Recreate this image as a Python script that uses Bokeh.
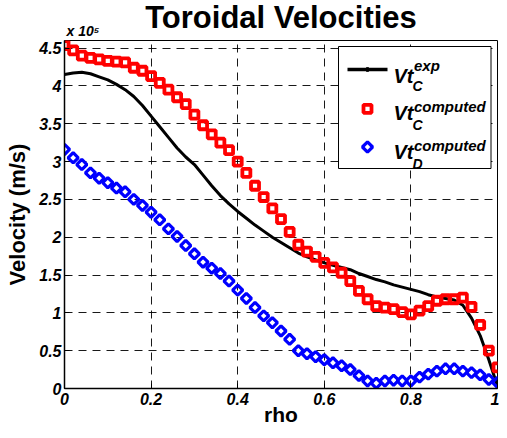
import numpy as np
from bokeh.plotting import figure
from bokeh.models import Range1d, FixedTicker, Label, Title
from bokeh.embed import file_html
from bokeh.resources import INLINE

# ---------------- data (velocities in units of 1e5 m/s) ----------------
rho = [0.00, 0.02, 0.04, 0.06, 0.08, 0.10, 0.12, 0.14, 0.16, 0.18,
       0.20, 0.22, 0.24, 0.26, 0.28, 0.30, 0.32, 0.34, 0.36, 0.38,
       0.40, 0.42, 0.44, 0.46, 0.48, 0.50, 0.52, 0.54, 0.56, 0.58,
       0.60, 0.62, 0.64, 0.66, 0.68, 0.70, 0.72, 0.74, 0.76, 0.78,
       0.80, 0.82, 0.84, 0.86, 0.88, 0.90, 0.92, 0.94, 0.96, 0.98, 1.00]

vt_c_exp = [4.15, 4.17, 4.18, 4.16, 4.12, 4.08, 4.02, 3.95, 3.86, 3.74,
            3.60, 3.46, 3.32, 3.18, 3.06, 2.96, 2.82, 2.68, 2.55, 2.44,
            2.34, 2.25, 2.16, 2.08, 2.00, 1.93, 1.86, 1.79, 1.74, 1.70,
            1.66, 1.63, 1.60, 1.57, 1.52, 1.48, 1.44, 1.41, 1.37, 1.34,
            1.31, 1.28, 1.24, 1.21, 1.19, 1.17, 1.10, 0.93, 0.70, 0.38, 0.03]

vt_c_computed = [4.54, 4.47, 4.40, 4.37, 4.35, 4.33, 4.32, 4.31, 4.24, 4.20,
                 4.13, 4.04, 3.95, 3.85, 3.76, 3.62, 3.48, 3.36, 3.25, 3.15,
                 3.00, 2.85, 2.68, 2.53, 2.38, 2.24, 2.07, 1.90, 1.81, 1.74,
                 1.66, 1.60, 1.53, 1.42, 1.29, 1.18, 1.09, 1.07, 1.05, 1.01,
                 0.98, 1.03, 1.09, 1.16, 1.18, 1.18, 1.20, 1.08, 0.84, 0.50, 0.28]

vt_d_computed = [3.16, 3.05, 2.96, 2.85, 2.78, 2.72, 2.65, 2.60, 2.50, 2.42,
                 2.33, 2.23, 2.11, 2.01, 1.89, 1.78, 1.67, 1.59, 1.52, 1.42,
                 1.30, 1.19, 1.07, 0.96, 0.87, 0.76, 0.65, 0.50, 0.46, 0.42,
                 0.38, 0.34, 0.30, 0.25, 0.17, 0.10, 0.07, 0.10, 0.11, 0.10,
                 0.10, 0.15, 0.19, 0.23, 0.26, 0.26, 0.23, 0.21, 0.18, 0.12, 0.08]

x_ticks = [0, 0.2, 0.4, 0.6, 0.8, 1]
x_tick_labels = ["0", "0.2", "0.4", "0.6", "0.8", "1"]
y_ticks = [0, 0.5, 1, 1.5, 2, 2.5, 3, 3.5, 4, 4.5]
y_tick_labels = ["0", "0.5", "1", "1.5", "2", "2.5", "3", "3.5", "4", "4.5"]

title_text = "Toroidal Velocities"
x_label = "rho"
y_label = "Velocity (m/s)"
exponent_text = "x 10\u2075"

X_MIN, X_MAX = 0.0, 1.0
Y_MIN, Y_MAX = 0.0, 4.6

W, H = 499, 430
FL, FR, FT, FB = 64, 497, 40, 388   # intended frame edges in figure pixels


def dx(fx):
    """figure pixel x -> data x (legend placement only)"""
    return X_MIN + (fx - FL) / (FR - FL) * (X_MAX - X_MIN)


def dy(fy):
    """figure pixel y -> data y (legend placement only)"""
    return Y_MIN + (FB - fy) / (FB - FT) * (Y_MAX - Y_MIN)


FONT = "Liberation Sans"

p = figure(width=W, height=H,
           x_range=Range1d(X_MIN, X_MAX), y_range=Range1d(Y_MIN, Y_MAX),
           output_backend="svg", toolbar_location=None,
           min_border_left=FL, min_border_right=W - FR,
           min_border_top=FT, min_border_bottom=H - FB)
p.background_fill_color = "white"
p.border_fill_color = "white"
p.outline_line_color = "black"
p.outline_line_width = 1

# title (outer above panel) and exponent marker (panel nearest the frame)
p.title.text = title_text
p.title.align = "center"
p.title.vertical_align = "bottom"
p.title.offset = 4
p.title.text_font = FONT
p.title.text_font_size = "31px"
p.title.text_font_style = "bold"
p.title.text_color = "black"
p.title.standoff = -30

exp_title = Title(text=exponent_text, align="left", offset=2,
                  vertical_align="bottom",
                  text_font=FONT, text_font_size="14px",
                  text_font_style="bold italic", text_color="black",
                  standoff=3)
p.add_layout(exp_title, "above")

for ax, ticks, labels in ((p.xaxis[0], x_ticks, x_tick_labels),
                          (p.yaxis[0], y_ticks, y_tick_labels)):
    ax.ticker = FixedTicker(ticks=ticks)
    ax.major_label_overrides = {t: l for t, l in zip(ticks, labels)}
    ax.major_tick_in = 5
    ax.major_tick_out = 0
    ax.minor_tick_line_color = None
    ax.axis_line_width = 1.5
    ax.axis_line_color = "black"
    ax.major_tick_line_color = "black"
    ax.major_label_text_font = FONT
    ax.major_label_text_font_style = "bold italic"
    ax.major_label_text_font_size = "16px"
    ax.major_label_text_color = "black"
    ax.axis_label_text_font = FONT
    ax.axis_label_text_font_style = "bold"
    ax.axis_label_text_color = "black"
p.xaxis.axis_label = x_label
p.yaxis.axis_label = y_label
p.xaxis.axis_label_text_font_size = "21px"
p.yaxis.axis_label_text_font_size = "22px"
p.xaxis.major_label_standoff = 4
p.yaxis.major_label_standoff = 3
p.xaxis.axis_label_standoff = -5
p.yaxis.axis_label_standoff = 6

for g, ticks in ((p.xgrid[0], x_ticks), (p.ygrid[0], y_ticks)):
    g.ticker = FixedTicker(ticks=ticks)
    g.grid_line_color = "black"
    g.grid_line_width = 1
    g.grid_line_dash = "8 6"
    g.grid_line_alpha = 0.9

# data
p.line(rho, vt_c_exp, line_color="black", line_width=3)
p.scatter(rho, vt_c_computed, marker="square", size=8, fill_color=None,
          line_color="red", line_width=3.8)
p.scatter(rho, vt_d_computed, marker="square", angle=np.pi / 4, size=7.2,
          fill_color=None, line_color="blue", line_width=3.2)

# legend (manual, for sub/superscripts); anchored to the frame's right edge
LX = -8
p.quad(left=dx(346 + LX), right=dx(498.5 + LX), top=dy(46), bottom=dy(168),
       fill_color="white", line_color="black", line_width=1)
p.line([dx(355 + LX), dx(395 + LX)], [dy(69), dy(69)],
       line_color="black", line_width=3.5)
p.scatter([dx(375 + LX)], [dy(69)], marker="circle", size=4,
          fill_color="black", line_color="black")
p.scatter([dx(375 + LX)], [dy(108.3)], marker="square", size=8,
          fill_color=None, line_color="red", line_width=3.8)
p.scatter([dx(375 + LX)], [dy(146.5)], marker="square", angle=np.pi / 4,
          size=7.2, fill_color=None, line_color="blue", line_width=3.2)


def lab(fx, fy, text, size, style="bold italic"):
    p.add_layout(Label(x=dx(fx), y=dy(fy), text=text, text_font=FONT,
                       text_font_size=size, text_font_style=style,
                       text_color="black", text_align="left",
                       text_baseline="alphabetic"))


legend_rows = [(75.0, 65.0, 85.0, "exp", "C"),
               (112.7, 105.7, 124.5, "computed", "C"),
               (151.7, 145.0, 163.5, "computed", "D")]
for base, sup_base, sub_base, sup, sub in legend_rows:
    lab(401.0 + LX, base, "Vt", "20px")
    lab(421.5 + LX, sup_base, sup, "15px")
    lab(420.0 + LX, sub_base, sub, "14px")

open("out.html", "w").write(file_html(p, INLINE))
